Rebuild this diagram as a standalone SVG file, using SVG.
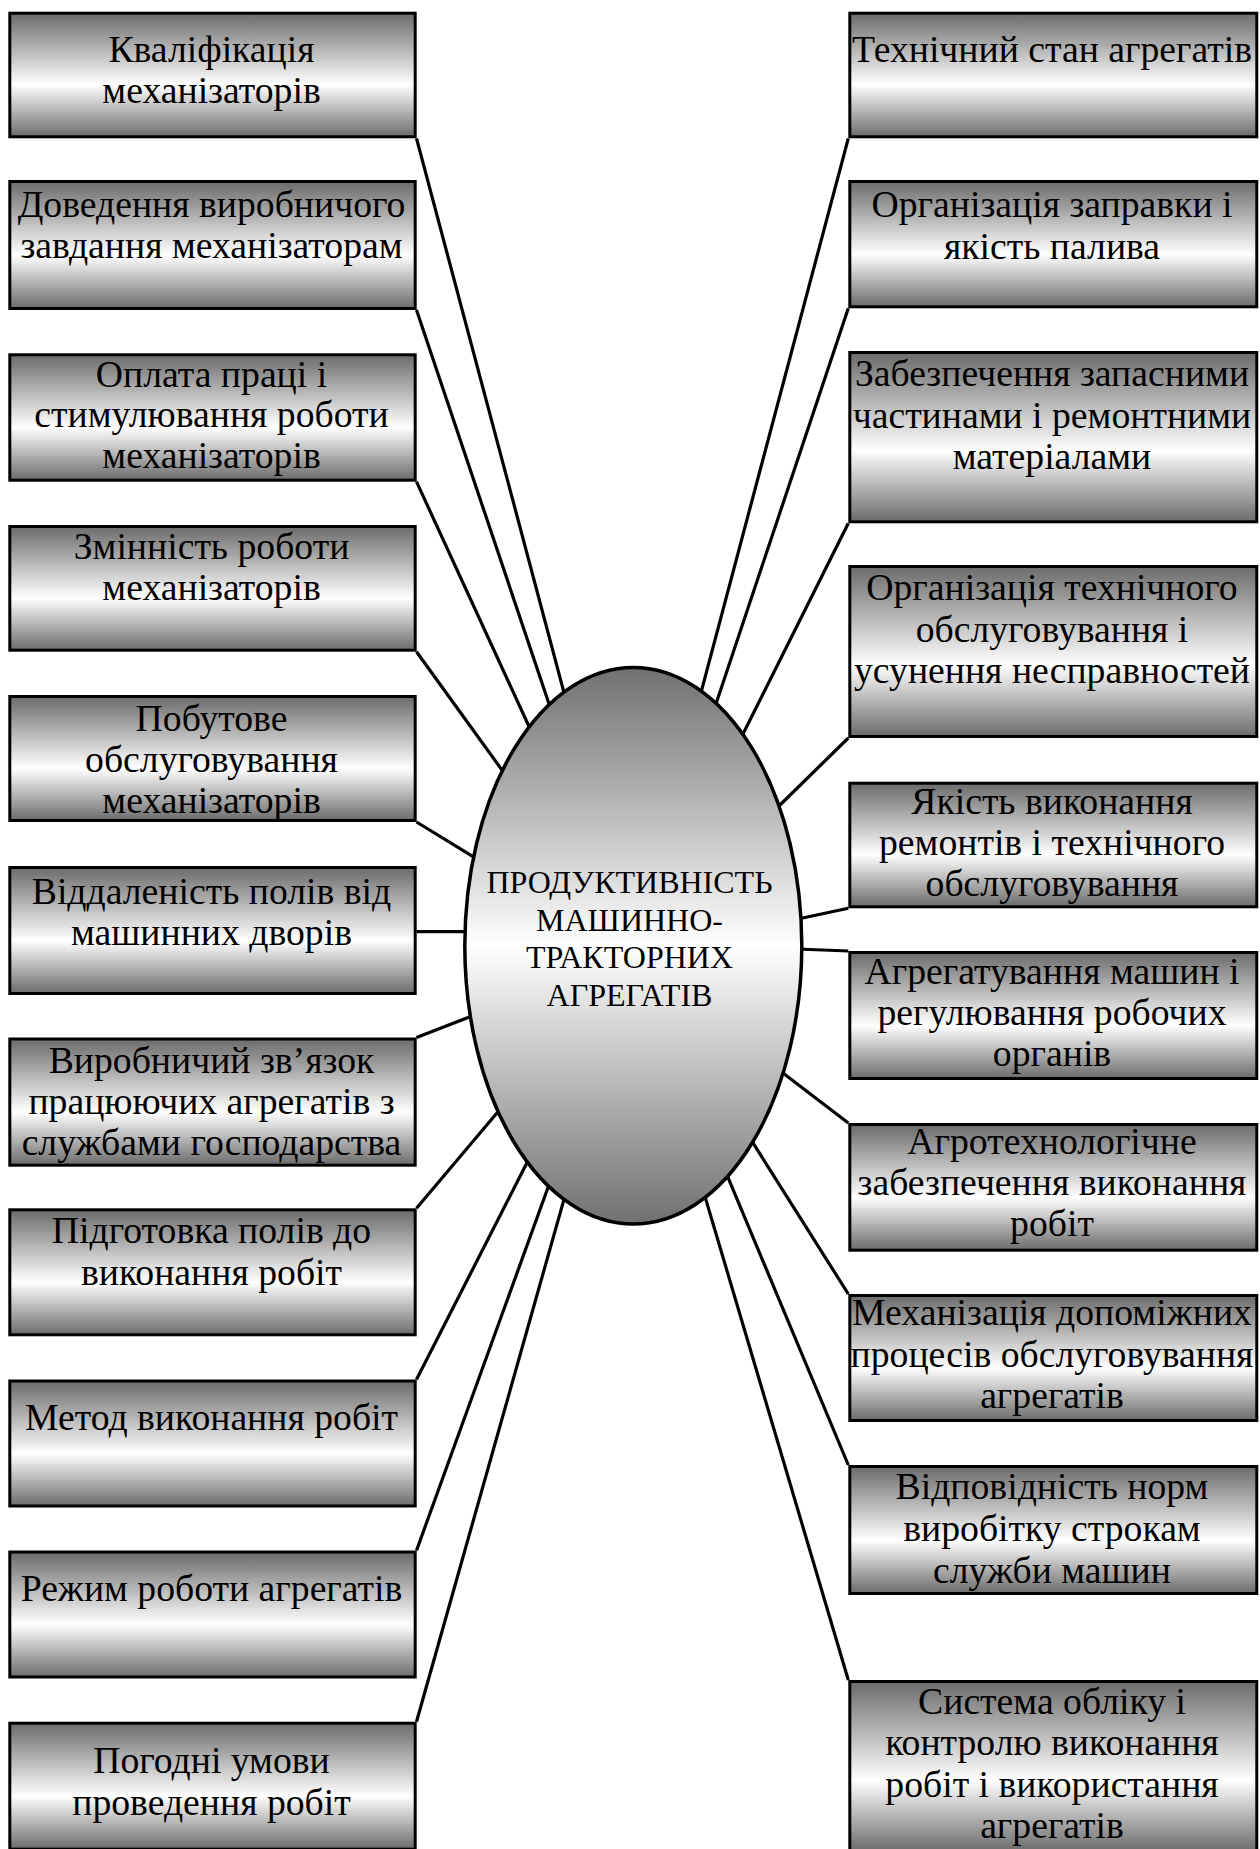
<svg xmlns="http://www.w3.org/2000/svg" width="1260" height="1849" viewBox="0 0 1260 1849">
  <style>
    .box { fill: url(#boxFill); stroke: #000; stroke-width: 3; }
    .hub { fill: url(#hubFill); stroke: #000; stroke-width: 3.5; }
    .lbl { font-family: "Liberation Serif", "Times New Roman", serif; font-size: 37.7px; fill: #000; text-anchor: middle; }
    .hubtxt { font-family: "Liberation Serif", "Times New Roman", serif; font-size: 32px; fill: #000; text-anchor: middle; }
    .conn line { stroke: #000; stroke-width: 3.2; }
  </style>
  <defs>
    <linearGradient id="boxFill" x1="0" y1="0" x2="0" y2="1">
      <stop offset="0" stop-color="#6b6b6b"/>
      <stop offset="0.58" stop-color="#ffffff"/>
      <stop offset="1" stop-color="#6b6b6b"/>
    </linearGradient>
    <linearGradient id="hubFill" x1="0" y1="0" x2="0" y2="1">
      <stop offset="0" stop-color="#707070"/>
      <stop offset="0.5" stop-color="#ffffff"/>
      <stop offset="1" stop-color="#707070"/>
    </linearGradient>
  </defs>
  <rect width="1260" height="1849" fill="#fff"/>

  <!-- connectors: box corner to hub ellipse -->
  <g id="connectors" class="conn">
    <line x1="416.5" y1="138.3" x2="564.6" y2="694.8"/>
    <line x1="416.5" y1="310" x2="549.9" y2="706.4"/>
    <line x1="416.5" y1="481.7" x2="530.4" y2="729.5"/>
    <line x1="416.5" y1="651.7" x2="504.9" y2="774.1"/>
    <line x1="416.5" y1="822" x2="477.6" y2="859.3"/>
    <line x1="416.5" y1="931.7" x2="470" y2="931.7"/>
    <line x1="416.5" y1="1037.5" x2="474.7" y2="1014.9"/>
    <line x1="416.5" y1="1208.3" x2="499.9" y2="1109.5"/>
    <line x1="416.5" y1="1379.5" x2="529" y2="1158.8"/>
    <line x1="416.5" y1="1550.5" x2="550" y2="1182"/>
    <line x1="416.5" y1="1721.7" x2="564.7" y2="1196.9"/>
    <line x1="848.3" y1="138.3" x2="700.4" y2="694.8"/>
    <line x1="848.3" y1="308.3" x2="715.1" y2="706.4"/>
    <line x1="848.3" y1="523.3" x2="741.1" y2="737.8"/>
    <line x1="848.3" y1="738" x2="776.4" y2="808.5"/>
    <line x1="848.3" y1="908.3" x2="796.8" y2="919.3"/>
    <line x1="848.3" y1="951" x2="797" y2="949"/>
    <line x1="848.3" y1="1123" x2="779.3" y2="1070.3"/>
    <line x1="848.3" y1="1294" x2="750.6" y2="1139.1"/>
    <line x1="848.3" y1="1465" x2="726.4" y2="1173.7"/>
    <line x1="848.3" y1="1680" x2="703.6" y2="1191.9"/>
  </g>

  <!-- central node -->
  <g id="hub">
    <ellipse class="hub" cx="633.3" cy="945.7" rx="168.5" ry="278.3"/>
    <text class="hubtxt" x="629.5" y="893.3">ПРОДУКТИВНІСТЬ</text>
    <text class="hubtxt" x="629.5" y="930.5">МАШИННО-</text>
    <text class="hubtxt" x="629.5" y="968">ТРАКТОРНИХ</text>
    <text class="hubtxt" x="629.5" y="1006">АГРЕГАТІВ</text>
  </g>

  <!-- left column -->
  <g id="L1">
    <rect class="box" x="9.8" y="13.2" width="405.4" height="123.6"/>
    <text class="lbl" x="211.5" y="61.7">Кваліфікація</text>
    <text class="lbl" x="211.5" y="102.5">механізаторів</text>
  </g>
  <g id="L2">
    <rect class="box" x="9.8" y="181.5" width="405.4" height="127"/>
    <text class="lbl" x="211.5" y="217">Доведення виробничого</text>
    <text class="lbl" x="211.5" y="258">завдання механізаторам</text>
  </g>
  <g id="L3">
    <rect class="box" x="9.8" y="354.8" width="405.4" height="125.4"/>
    <text class="lbl" x="211.5" y="386.7">Оплата праці і</text>
    <text class="lbl" x="211.5" y="427">стимулювання роботи</text>
    <text class="lbl" x="211.5" y="467.5">механізаторів</text>
  </g>
  <g id="L4">
    <rect class="box" x="9.8" y="526.5" width="405.4" height="123.7"/>
    <text class="lbl" x="211.5" y="558.5">Змінність роботи</text>
    <text class="lbl" x="211.5" y="600">механізаторів</text>
  </g>
  <g id="L5">
    <rect class="box" x="9.8" y="696.5" width="405.4" height="124"/>
    <text class="lbl" x="211.5" y="731">Побутове</text>
    <text class="lbl" x="211.5" y="772">обслуговування</text>
    <text class="lbl" x="211.5" y="813">механізаторів</text>
  </g>
  <g id="L6">
    <rect class="box" x="9.8" y="867.5" width="405.4" height="126"/>
    <text class="lbl" x="211.5" y="904">Віддаленість полів від</text>
    <text class="lbl" x="211.5" y="945">машинних дворів</text>
  </g>
  <g id="L7">
    <rect class="box" x="9.8" y="1039" width="405.4" height="126.2"/>
    <text class="lbl" x="211.5" y="1073">Виробничий зв’язок</text>
    <text class="lbl" x="211.5" y="1114">працюючих агрегатів з</text>
    <text class="lbl" x="211.5" y="1155">службами господарства</text>
  </g>
  <g id="L8">
    <rect class="box" x="9.8" y="1209.8" width="405.4" height="125"/>
    <text class="lbl" x="211.5" y="1243">Підготовка полів до</text>
    <text class="lbl" x="211.5" y="1284.5">виконання робіт</text>
  </g>
  <g id="L9">
    <rect class="box" x="9.8" y="1381" width="405.4" height="125"/>
    <text class="lbl" x="211.5" y="1429.5">Метод виконання робіт</text>
  </g>
  <g id="L10">
    <rect class="box" x="9.8" y="1552" width="405.4" height="125"/>
    <text class="lbl" x="211.5" y="1601">Режим роботи агрегатів</text>
  </g>
  <g id="L11">
    <rect class="box" x="9.8" y="1723.2" width="405.4" height="126"/>
    <text class="lbl" x="211.5" y="1773.3">Погодні умови</text>
    <text class="lbl" x="211.5" y="1815">проведення робіт</text>
  </g>

  <!-- right column -->
  <g id="R1">
    <rect class="box" x="849.8" y="13.2" width="407" height="123.6"/>
    <text class="lbl" x="1052" y="61.7">Технічний стан агрегатів</text>
  </g>
  <g id="R2">
    <rect class="box" x="849.8" y="181.5" width="407" height="125.3"/>
    <text class="lbl" x="1052" y="217">Організація заправки і</text>
    <text class="lbl" x="1052" y="258.5">якість палива</text>
  </g>
  <g id="R3">
    <rect class="box" x="849.8" y="352.5" width="407" height="169.3"/>
    <text class="lbl" x="1052" y="386">Забезпечення запасними</text>
    <text class="lbl" x="1052" y="427.5">частинами і ремонтними</text>
    <text class="lbl" x="1052" y="469">матеріалами</text>
  </g>
  <g id="R4">
    <rect class="box" x="849.8" y="566.5" width="407" height="170"/>
    <text class="lbl" x="1052" y="600">Організація технічного</text>
    <text class="lbl" x="1052" y="641.5">обслуговування і</text>
    <text class="lbl" x="1052" y="683">усунення несправностей</text>
  </g>
  <g id="R5">
    <rect class="box" x="849.8" y="783.2" width="407" height="123.6"/>
    <text class="lbl" x="1052" y="813.5">Якість виконання</text>
    <text class="lbl" x="1052" y="854.5">ремонтів і технічного</text>
    <text class="lbl" x="1052" y="895.5">обслуговування</text>
  </g>
  <g id="R6">
    <rect class="box" x="849.8" y="952.5" width="407" height="126"/>
    <text class="lbl" x="1052" y="984">Агрегатування машин і</text>
    <text class="lbl" x="1052" y="1025">регулювання робочих</text>
    <text class="lbl" x="1052" y="1066">органів</text>
  </g>
  <g id="R7">
    <rect class="box" x="849.8" y="1124.5" width="407" height="125.7"/>
    <text class="lbl" x="1052" y="1154">Агротехнологічне</text>
    <text class="lbl" x="1052" y="1195">забезпечення виконання</text>
    <text class="lbl" x="1052" y="1236">робіт</text>
  </g>
  <g id="R8">
    <rect class="box" x="849.8" y="1295.5" width="407" height="125"/>
    <text class="lbl" x="1052" y="1325">Механізація допоміжних</text>
    <text class="lbl" x="1052" y="1366.5">процесів обслуговування</text>
    <text class="lbl" x="1052" y="1408">агрегатів</text>
  </g>
  <g id="R9">
    <rect class="box" x="849.8" y="1466.5" width="407" height="127"/>
    <text class="lbl" x="1052" y="1499">Відповідність норм</text>
    <text class="lbl" x="1052" y="1540.5">виробітку строкам</text>
    <text class="lbl" x="1052" y="1582.5">служби машин</text>
  </g>
  <g id="R10">
    <rect class="box" x="849.8" y="1681.5" width="407" height="170"/>
    <text class="lbl" x="1052" y="1713.5">Система обліку і</text>
    <text class="lbl" x="1052" y="1755">контролю виконання</text>
    <text class="lbl" x="1052" y="1796.5">робіт і використання</text>
    <text class="lbl" x="1052" y="1838">агрегатів</text>
  </g>
</svg>
